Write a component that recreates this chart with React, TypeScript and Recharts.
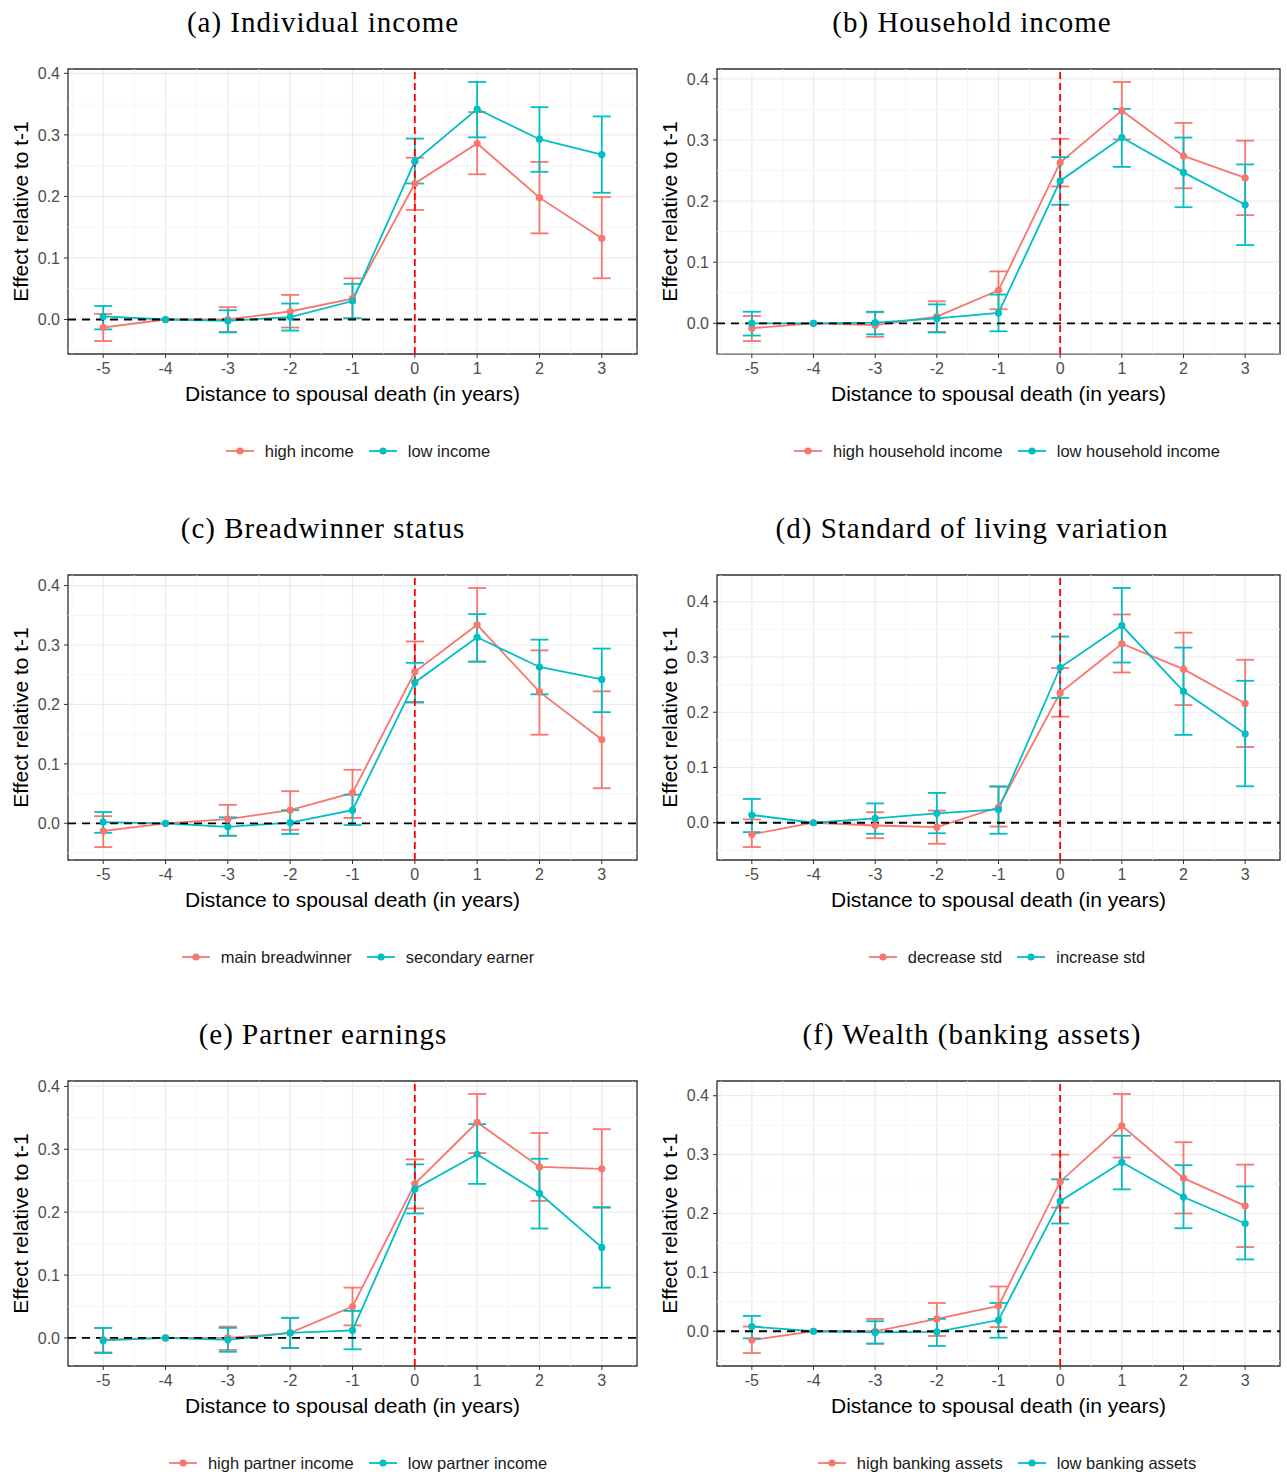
import {
  CartesianGrid,
  ErrorBar,
  Line,
  LineChart,
  ReferenceArea,
  ReferenceLine,
  XAxis,
  YAxis,
} from 'recharts'

const RED = '#F8766D'
const TEAL = '#00BFC4'
const SANS = '"Liberation Sans", Arial, sans-serif'
const SERIF = '"Liberation Serif", "Times New Roman", serif'

const years = [-5, -4, -3, -2, -1, 0, 1, 2, 3]
const yTicks = [0, 0.1, 0.2, 0.3, 0.4]
const yMinor = [-0.05, 0.05, 0.15, 0.25, 0.35, 0.45]
const xMinor = [-5.5, -4.5, -3.5, -2.5, -1.5, -0.5, 0.5, 1.5, 2.5, 3.5]
// errorbar width 0.3 plus ggplot's 5% expansion
const xDomain = [-5.565, 3.565]

// (a) Individual income
const aHighEst = [-0.013, 0, 0.0, 0.013, 0.034, 0.221, 0.286, 0.198, 0.132]
const aHighLo = [-0.035, null, -0.02, -0.013, 0.002, 0.178, 0.236, 0.14, 0.067]
const aHighHi = [0.009, null, 0.02, 0.04, 0.067, 0.263, 0.337, 0.256, 0.199]
const aLowEst = [0.005, 0, -0.002, 0.004, 0.03, 0.257, 0.342, 0.293, 0.268]
const aLowLo = [-0.016, null, -0.021, -0.018, 0.002, 0.221, 0.296, 0.24, 0.206]
const aLowHi = [0.022, null, 0.015, 0.026, 0.058, 0.294, 0.386, 0.345, 0.33]

// (b) Household income
const bHighEst = [-0.008, 0, -0.003, 0.011, 0.054, 0.263, 0.348, 0.274, 0.238]
const bHighLo = [-0.029, null, -0.022, -0.014, 0.023, 0.224, 0.301, 0.221, 0.177]
const bHighHi = [0.012, null, 0.018, 0.036, 0.085, 0.302, 0.395, 0.328, 0.299]
const bLowEst = [0.0, 0, 0.001, 0.008, 0.017, 0.233, 0.304, 0.247, 0.194]
const bLowLo = [-0.02, null, -0.018, -0.015, -0.013, 0.194, 0.256, 0.19, 0.128]
const bLowHi = [0.019, null, 0.019, 0.031, 0.047, 0.272, 0.351, 0.304, 0.26]

// (c) Breadwinner status
const cHighEst = [-0.013, 0, 0.007, 0.022, 0.051, 0.255, 0.334, 0.221, 0.141]
const cHighLo = [-0.04, null, -0.021, -0.011, 0.009, 0.203, 0.272, 0.149, 0.059]
const cHighHi = [0.012, null, 0.031, 0.054, 0.09, 0.306, 0.396, 0.291, 0.222]
const cLowEst = [0.002, 0, -0.006, 0.001, 0.022, 0.237, 0.313, 0.263, 0.242]
const cLowLo = [-0.016, null, -0.021, -0.018, -0.003, 0.204, 0.272, 0.217, 0.187]
const cLowHi = [0.019, null, 0.01, 0.022, 0.048, 0.27, 0.352, 0.309, 0.294]

// (d) Standard of living variation
const dHighEst = [-0.021, 0, -0.005, -0.008, 0.028, 0.235, 0.324, 0.278, 0.216]
const dHighLo = [-0.044, null, -0.028, -0.038, -0.007, 0.192, 0.272, 0.213, 0.137]
const dHighHi = [0.006, null, 0.019, 0.022, 0.065, 0.28, 0.377, 0.344, 0.295]
const dLowEst = [0.014, 0, 0.008, 0.017, 0.024, 0.281, 0.357, 0.238, 0.161]
const dLowLo = [-0.017, null, -0.02, -0.019, -0.02, 0.226, 0.29, 0.159, 0.066]
const dLowHi = [0.043, null, 0.035, 0.054, 0.066, 0.337, 0.425, 0.317, 0.257]

// (e) Partner earnings
const eHighEst = [-0.003, 0, 0.0, 0.008, 0.05, 0.245, 0.343, 0.272, 0.269]
const eHighLo = [-0.023, null, -0.019, -0.016, 0.02, 0.206, 0.294, 0.218, 0.207]
const eHighHi = [0.016, null, 0.018, 0.032, 0.08, 0.284, 0.388, 0.326, 0.332]
const eLowEst = [-0.004, 0, -0.003, 0.008, 0.012, 0.237, 0.292, 0.23, 0.144]
const eLowLo = [-0.024, null, -0.022, -0.016, -0.018, 0.198, 0.245, 0.174, 0.08]
const eLowHi = [0.016, null, 0.016, 0.032, 0.043, 0.276, 0.34, 0.285, 0.208]

// (f) Wealth (banking assets)
const fHighEst = [-0.015, 0, 0.0, 0.021, 0.043, 0.254, 0.349, 0.26, 0.213]
const fHighLo = [-0.037, null, -0.021, -0.008, 0.007, 0.21, 0.295, 0.2, 0.143]
const fHighHi = [0.008, null, 0.021, 0.048, 0.076, 0.3, 0.403, 0.321, 0.283]
const fLowEst = [0.008, 0, -0.002, -0.001, 0.019, 0.221, 0.287, 0.228, 0.183]
const fLowLo = [-0.012, null, -0.021, -0.025, -0.011, 0.183, 0.241, 0.175, 0.122]
const fLowHi = [0.026, null, 0.017, 0.021, 0.048, 0.258, 0.332, 0.282, 0.246]

type Series = {
  name: string
  est: number[]
  lo: (number | null)[]
  hi: (number | null)[]
}

function buildRows(high: Series, low: Series) {
  return years.map((year, i) => {
    const hLo = high.lo[i]
    const hHi = high.hi[i]
    const lLo = low.lo[i]
    const lHi = low.hi[i]
    return {
      year,
      high: high.est[i],
      highErr: hLo == null || hHi == null ? undefined : [high.est[i] - hLo, hHi - high.est[i]],
      low: low.est[i],
      lowErr: lLo == null || lHi == null ? undefined : [low.est[i] - lLo, lHi - low.est[i]],
    }
  })
}

function yDomain(high: Series, low: Series) {
  const vals = [...high.est, ...high.lo, ...high.hi, ...low.est, ...low.lo, ...low.hi].filter(
    (v): v is number => v != null,
  )
  const min = Math.min(...vals)
  const max = Math.max(...vals)
  const pad = (max - min) * 0.05
  return [min - pad, max + pad]
}

function LegendKey({ color, name }: { color: string; name: string }) {
  return (
    <div style={{ display: 'flex', alignItems: 'center' }}>
      <svg width={28} height={10}>
        <line x1={0} x2={28} y1={5} y2={5} stroke={color} strokeWidth={1.8} />
        <circle cx={14} cy={5} r={3.6} fill={color} />
      </svg>
      <span style={{ marginLeft: 11, fontSize: 16.5, color: '#1a1a1a' }}>{name}</span>
    </div>
  )
}

function Panel({
  left,
  top,
  col,
  title,
  high,
  low,
}: {
  left: number
  top: number
  col: number
  title: string
  high: Series
  low: Series
}) {
  const rows = buildRows(high, low)
  const domain = yDomain(high, low)
  const plotLeft = col === 0 ? 68 : 74
  const titleX = col === 0 ? 323 : 329
  const legendX = col === 0 ? 358 : 364

  return (
    <div style={{ position: 'absolute', left, top, width: 643, height: 506, fontFamily: SANS }}>
      <div
        style={{
          position: 'absolute',
          left: titleX - 300,
          width: 600,
          top: 4,
          lineHeight: '36px',
          textAlign: 'center',
          fontFamily: SERIF,
          fontSize: 29,
          letterSpacing: 1,
          color: '#000',
        }}
      >
        {title}
      </div>
      <LineChart
        width={643}
        height={506}
        data={rows}
        margin={{ top: 69, right: 6, bottom: 92, left: 0 }}
      >
        <CartesianGrid stroke="#EBEBEB" strokeWidth={1.2} />
        {xMinor.map((x) => (
          <ReferenceLine key={'mx' + x} x={x} stroke="#F2F2F2" strokeWidth={0.8} />
        ))}
        {yMinor.map((y) => (
          <ReferenceLine key={'my' + y} y={y} stroke="#F2F2F2" strokeWidth={0.8} />
        ))}
        <XAxis
          dataKey="year"
          type="number"
          domain={xDomain}
          ticks={years}
          allowDataOverflow
          axisLine={false}
          tickSize={4}
          tickMargin={5}
          tickLine={{ stroke: '#333333' }}
          tick={{ fill: '#4D4D4D', fontSize: 16 }}
          height={60}
          label={{
            value: 'Distance to spousal death (in years)',
            position: 'insideBottom',
            offset: 13,
            fill: '#000',
            fontSize: 21,
          }}
        />
        <YAxis
          type="number"
          domain={domain}
          ticks={yTicks}
          allowDataOverflow
          width={plotLeft}
          axisLine={false}
          tickSize={4}
          tickMargin={4}
          tickLine={{ stroke: '#333333' }}
          tick={{ fill: '#4D4D4D', fontSize: 16 }}
          tickFormatter={(v: number) => v.toFixed(1)}
          label={{
            content: (props: any) => {
              const vb = props.viewBox || {}
              const cx = vb.x + vb.width - 48
              const cy = vb.y + vb.height / 2
              return (
                <text
                  x={cx}
                  y={cy}
                  transform={`rotate(-90 ${cx} ${cy})`}
                  textAnchor="middle"
                  dominantBaseline="central"
                  fontSize={21}
                  fill="#000"
                >
                  Effect relative to t-1
                </text>
              )
            },
          }}
        />
        <Line
          dataKey="high"
          stroke={RED}
          strokeWidth={1.8}
          dot={{ r: 3.6, fill: RED, stroke: RED, strokeWidth: 0 }}
          activeDot={false}
          isAnimationActive={false}
        >
          <ErrorBar dataKey="highErr" width={9} stroke={RED} strokeWidth={1.8} direction="y" />
        </Line>
        <Line
          dataKey="low"
          stroke={TEAL}
          strokeWidth={1.8}
          dot={{ r: 3.6, fill: TEAL, stroke: TEAL, strokeWidth: 0 }}
          activeDot={false}
          isAnimationActive={false}
        >
          <ErrorBar dataKey="lowErr" width={9} stroke={TEAL} strokeWidth={1.8} direction="y" />
        </Line>
        <ReferenceLine y={0} stroke="#000" strokeWidth={1.8} strokeDasharray="8 6" />
        <ReferenceLine x={0} stroke="#FF0000" strokeWidth={1.8} strokeDasharray="7 4" />
        <ReferenceArea
          x1={xDomain[0]}
          x2={xDomain[1]}
          y1={domain[0]}
          y2={domain[1]}
          ifOverflow="visible"
          fill="none"
          fillOpacity={0}
          stroke="#333333"
          strokeOpacity={1}
          strokeWidth={1.3}
        />
      </LineChart>
      <div
        style={{
          position: 'absolute',
          left: legendX - 300,
          width: 600,
          top: 439,
          height: 24,
          display: 'flex',
          justifyContent: 'center',
          alignItems: 'center',
          gap: 15,
        }}
      >
        <LegendKey color={RED} name={high.name} />
        <LegendKey color={TEAL} name={low.name} />
      </div>
    </div>
  )
}

export default function App() {
  return (
    <div
      style={{
        position: 'absolute',
        left: 0,
        top: 0,
        width: 1287,
        height: 1474,
        background: '#fff',
      }}
    >
      <Panel
        left={0}
        top={0}
        col={0}
        title="(a) Individual income"
        high={{ name: 'high income', est: aHighEst, lo: aHighLo, hi: aHighHi }}
        low={{ name: 'low income', est: aLowEst, lo: aLowLo, hi: aLowHi }}
      />
      <Panel
        left={643}
        top={0}
        col={1}
        title="(b) Household income"
        high={{ name: 'high household income', est: bHighEst, lo: bHighLo, hi: bHighHi }}
        low={{ name: 'low household income', est: bLowEst, lo: bLowLo, hi: bLowHi }}
      />
      <Panel
        left={0}
        top={506}
        col={0}
        title="(c) Breadwinner status"
        high={{ name: 'main breadwinner', est: cHighEst, lo: cHighLo, hi: cHighHi }}
        low={{ name: 'secondary earner', est: cLowEst, lo: cLowLo, hi: cLowHi }}
      />
      <Panel
        left={643}
        top={506}
        col={1}
        title="(d) Standard of living variation"
        high={{ name: 'decrease std', est: dHighEst, lo: dHighLo, hi: dHighHi }}
        low={{ name: 'increase std', est: dLowEst, lo: dLowLo, hi: dLowHi }}
      />
      <Panel
        left={0}
        top={1012}
        col={0}
        title="(e) Partner earnings"
        high={{ name: 'high partner income', est: eHighEst, lo: eHighLo, hi: eHighHi }}
        low={{ name: 'low partner income', est: eLowEst, lo: eLowLo, hi: eLowHi }}
      />
      <Panel
        left={643}
        top={1012}
        col={1}
        title="(f) Wealth (banking assets)"
        high={{ name: 'high banking assets', est: fHighEst, lo: fHighLo, hi: fHighHi }}
        low={{ name: 'low banking assets', est: fLowEst, lo: fLowLo, hi: fLowHi }}
      />
    </div>
  )
}
